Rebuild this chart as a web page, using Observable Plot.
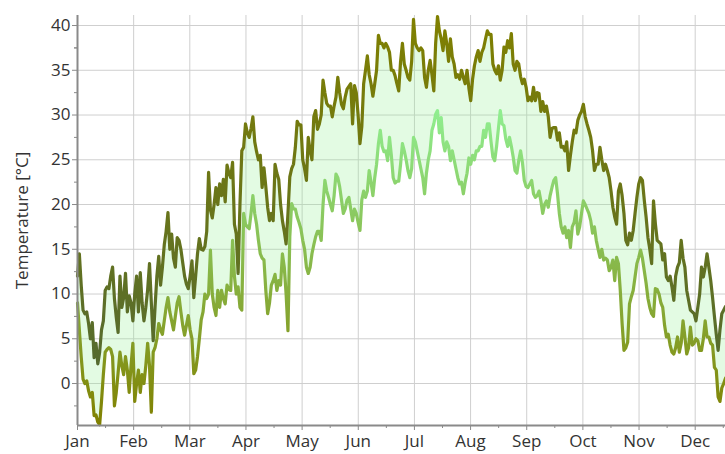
<!DOCTYPE html>
<html>
<head>
<meta charset="utf-8">
<script src="https://cdn.jsdelivr.net/npm/d3@7"></script>
<script src="https://cdn.jsdelivr.net/npm/@observablehq/plot@0.6"></script>
<style>
  body { margin: 0; background: #fff; }
  svg { display: block; }
</style>
</head>
<body>
<div id="chart"></div>
<script>
const monthLabels = ["Jan","Feb","Mar","Apr","May","Jun","Jul","Aug","Sep","Oct","Nov","Dec"];
const yTickValues = [0, 5, 10, 15, 20, 25, 30, 35, 40];
const yLabel = "Temperature [°C]";

// daily maximum temperature (°C), day 0 = 1 Jan
const maxTemp = [
  12, 14.5, 11, 8.2, 7.8, 8, 6.7, 5, 6.8, 2.9,
  4.5, 2.2, 3.5, 6, 7, 10.4, 10.8, 10.6, 12, 13,
  9.5, 7.4, 5.7, 12, 8.5, 9.6, 12.3, 8, 9.8, 9,
  7, 10, 12, 8, 12.4, 9, 7, 8.5, 10.5, 13.4,
  9, 4.8, 8.5, 12, 14.2, 11, 13, 15.5, 17, 19.1,
  15, 16.7, 14, 13, 16.3, 16, 15, 13.5, 12, 11.1,
  10.6, 12, 13.7, 9.6, 12, 14.5, 16.2, 15, 14.9, 15.3,
  17, 23.6, 19.4, 18.5, 20, 21.9, 20, 22.3, 21, 22.8,
  20.3, 24.4, 23.5, 23, 24.7, 17.8, 16.7, 12.3, 20, 26,
  26.4, 29, 28, 27.5, 28.5, 29.8, 27, 25.9, 25, 25.5,
  21.9, 24.1, 22, 19.7, 18.2, 19, 18.2, 24.5, 23.5, 22.8,
  20, 18.2, 17, 15.6, 19, 23.1, 24, 24.5, 26.4, 29.3,
  28.9, 28.9, 25, 24, 22.7, 27.5, 26, 25, 29.8, 30.5,
  28.4, 29, 30, 33.9, 32.5, 31.3, 31, 31, 29.8, 31,
  32, 34.2, 32.5, 31.2, 30.7, 32, 32.9, 33.2, 33.5, 29,
  33.3, 32.5, 30, 26.8, 28.7, 33.5, 35, 36.6, 34.5, 33.5,
  32.1, 33.5, 35, 38.9, 38, 38, 37.5, 38, 37.6, 37,
  35, 35, 34.4, 33.5, 32.7, 36, 38, 35.7, 35, 34.2,
  33.9, 36, 40.7, 38, 37.5, 37.2, 37.5, 37.2, 34.2, 33.1,
  35, 36.1, 34.5, 32.7, 38, 41, 39.4, 38.5, 37.2, 39.4,
  38, 36, 38.5, 36.5, 35.7, 34.2, 34.5, 34, 35, 34.2,
  33.5, 35, 33, 31.6, 34, 35.5, 36.5, 37.2, 36, 37,
  37.5, 38.5, 39.4, 39, 39, 35.7, 35, 34.6, 35.5, 33.9,
  35, 37.6, 37, 38.3, 37.5, 39.1, 35.7, 35, 36, 35.7,
  34.3, 33.5, 34, 33.1, 31.6, 32, 31.6, 33.1, 31.6, 32.5,
  32.4, 30.4, 31.5, 30.4, 31, 29.8, 27.5, 28.5, 28.6, 28.6,
  27.2, 28, 26.4, 26.5, 26, 27, 23.8, 25.5, 27, 28.3,
  28, 29.4, 30, 30.4, 31.2, 29.8, 29, 28.3, 27.5, 26,
  23.8, 24.5, 24.5, 26.4, 25, 23.8, 24.5, 23.8, 23, 21.5,
  19.7, 18.6, 17.8, 21.5, 22.3, 21, 19, 16, 15.5, 16.8,
  16, 17.1, 19, 20.8, 22.3, 23, 22.7, 20.5, 18.6, 16.3,
  15, 13.4, 20.4, 17.9, 16, 15.8, 15.6, 13.8, 14.5, 11.9,
  11.5, 12, 10.8, 9.3, 12, 13, 13.5, 16, 14, 13,
  10.4, 9.3, 8.2, 8, 7.8, 7, 8.5, 10, 13, 11.9,
  13, 14.5, 13, 11.5, 9.6, 7.5, 5.5, 3.7, 6, 7.8,
  8.2, 8.6
];

// daily minimum temperature (°C)
const minTemp = [
  9, 6, 3, 0.5, 0, 0.3, -0.8, -1.5, -1, -3.6,
  -3.5, -4.3, -4.6, -2, 1, 3.5, 3.8, 4, 3.8, 3,
  -2.5, -1, 1.2, 3.5, 2, 1, 3, 1.5, -1, 2,
  4.5, -2, 0, 1.5, -1, 1, 0, 2, 4.5, 2,
  -3.2, 3.5, 4, 5, 6.7, 6, 5.5, 7, 8.5, 9.6,
  8, 7, 6, 7.5, 9, 9.7, 8, 6.5, 5.4, 6.5,
  7.6, 6, 5, 1.1, 1.5, 3, 5, 7.1, 8, 10,
  9.5, 10, 14.9, 10, 8.5, 7.6, 10.4, 8.5, 10.4, 9.5,
  8.9, 11, 10.5, 10.4, 16, 12, 10, 10.8, 8.5, 8.2,
  19, 17.8, 17.5, 17.3, 19, 21, 19, 17.8, 16, 14.5,
  14, 13.8, 10.4, 7.8, 9, 11, 11.5, 12.2, 10.4, 11.5,
  11, 14.5, 13, 10, 5.9, 16.4, 20.1, 19.5, 19.5, 18.6,
  18, 17.3, 16, 15, 13, 12.3, 13, 14.5, 15.5, 16.4,
  17, 17, 16, 20, 22.7, 21.5, 20.8, 20, 19.3, 21,
  23.4, 23, 22, 20.5, 19, 19.5, 20.5, 20.8, 19.5, 18.2,
  19.5, 19, 18, 17.1, 20.5, 21.5, 20.8, 21.5, 23.8, 22.5,
  21, 23, 24.5, 26.8, 28.3, 26.5, 25.9, 26, 24.9, 27.5,
  25.5, 23, 22.4, 22.6, 22.6, 24.5, 26.8, 26, 25, 23.8,
  23, 24, 27.5, 27, 26, 25, 24, 23, 21.2, 23.5,
  25, 26, 28.3, 29, 30.1, 30.5, 28, 29.7, 27, 26,
  27, 26.5, 24.9, 26, 25, 24, 23, 22.3, 22.5, 21.2,
  22.5, 23.5, 25.2, 24.5, 25.5, 25, 26, 26, 26.5, 26.5,
  28.3, 27.5, 29, 29, 27, 25.3, 24.9, 26.5, 28.5, 30.5,
  29, 28.8, 27.3, 26.5, 27.5, 26.5, 25.3, 23.8, 23.5, 24.9,
  26, 24.7, 22.7, 22, 21.9, 22.3, 22.7, 21.2, 20.8, 21,
  21.5, 20.4, 19, 20, 20.4, 19.7, 21, 21.9, 22.7, 23,
  21.2, 19, 17.5, 16.8, 17.5, 16.3, 17.1, 15.2, 17.5, 18,
  19.3, 16.7, 17.5, 19, 20.4, 20, 19.5, 19, 18.2, 16.8,
  17.5, 16, 15, 14.1, 15, 13.8, 14, 13.8, 12.6, 13,
  13.8, 11.5, 14.1, 13.4, 10.4, 6.7, 3.7, 4, 4.6, 8.9,
  9.7, 10.4, 11.9, 13.4, 14.1, 14.9, 14, 12.6, 11.2, 9.5,
  8.5, 7.8, 7.5, 10.6, 10.5, 10, 9, 8.5, 6.5, 5.2,
  5.5, 4.3, 3.5, 3.3, 4, 5.2, 3.5, 4.5, 7, 5.2,
  3.3, 4, 6.3, 4.3, 4.5, 5, 4.8, 3.7, 3.7, 5,
  7, 5.2, 5.2, 4.5, 4.3, 1.8, 1.5, -1.5, -2, -0.5,
  0, 0.6
];

const n = Math.min(maxTemp.length, minTemp.length);
const data = d3.range(n).map(i => ({day: i, hi: maxTemp[i], lo: minTemp[i]}));
const daysPerMonth = 365 / 12;
const monthTicks = monthLabels.map((m, i) => i * daysPerMonth);
const monthMinor = monthLabels.map((m, i) => (i + 0.5) * daysPerMonth);
const yMinor = yTickValues.map(v => v - 2.5).concat([37.5]);
const xDomain = [0, 351];
const yDomain = [-4.69, 41.12];
const axisColor = "#8a8a8a";
const gridColor = "#cfcfcf";

const chart = Plot.plot({
  width: 725,
  height: 454,
  marginLeft: 77,
  marginRight: 0,
  marginTop: 15,
  marginBottom: 29,
  style: {fontFamily: "'Open Sans', 'Noto Sans', sans-serif", fontSize: "17px", color: "#333", background: "white"},
  x: {domain: xDomain},
  y: {domain: yDomain},
  marks: [
    Plot.gridY(yTickValues, {stroke: gridColor, strokeOpacity: 1, strokeWidth: 1}),
    Plot.gridX(monthTicks.slice(1), {stroke: gridColor, strokeOpacity: 1, strokeWidth: 1}),
    Plot.areaY(data, {x: "day", y1: "lo", y2: "hi", fill: "#90ee90", fillOpacity: 0.25}),
    Plot.line(data, {x: "day", y: "lo", stroke: "url(#gradLo)", strokeWidth: 3.2}),
    Plot.line(data, {x: "day", y: "hi", stroke: "url(#gradHi)", strokeWidth: 3.2}),
    Plot.axisY(yTickValues, {tickSize: 5, tickPadding: 2, stroke: axisColor, label: null, fontSize: 17}),
    Plot.axisY(yMinor, {tickSize: 3, text: null, stroke: axisColor, label: null}),
    Plot.axisX(monthTicks, {tickSize: 5, tickPadding: 4, stroke: axisColor, label: null, fontSize: 17,
      tickFormat: d => monthLabels[Math.round(d / daysPerMonth)]}),
    Plot.axisX(monthMinor, {tickSize: 3, text: null, stroke: axisColor, label: null}),
    Plot.ruleX([xDomain[0]], {stroke: axisColor, strokeWidth: 2}),
    Plot.ruleY([yDomain[0]], {stroke: axisColor, strokeWidth: 2}),
    Plot.text([yLabel], {frameAnchor: "left", textAnchor: "middle", rotate: -90, dx: -55, fontSize: 17, fill: "#333"})
  ]
});

const svgEl = chart.tagName.toLowerCase() === "svg" ? chart : chart.querySelector("svg");
const yScale = chart.scale("y");
const defs = d3.select(svgEl).insert("defs", ":first-child");
function addGradient(id, values, c0, c1) {
  const [a, b] = d3.extent(values);
  const g = defs.append("linearGradient")
    .attr("id", id)
    .attr("gradientUnits", "userSpaceOnUse")
    .attr("x1", 0).attr("x2", 0)
    .attr("y1", yScale.apply(a)).attr("y2", yScale.apply(b));
  g.append("stop").attr("offset", 0).attr("stop-color", c0);
  g.append("stop").attr("offset", 1).attr("stop-color", c1);
}
addGradient("gradHi", maxTemp, "#556b2f", "#808000");
addGradient("gradLo", minTemp, "#808000", "#90ee90");

document.getElementById("chart").appendChild(chart);
</script>
</body>
</html>
